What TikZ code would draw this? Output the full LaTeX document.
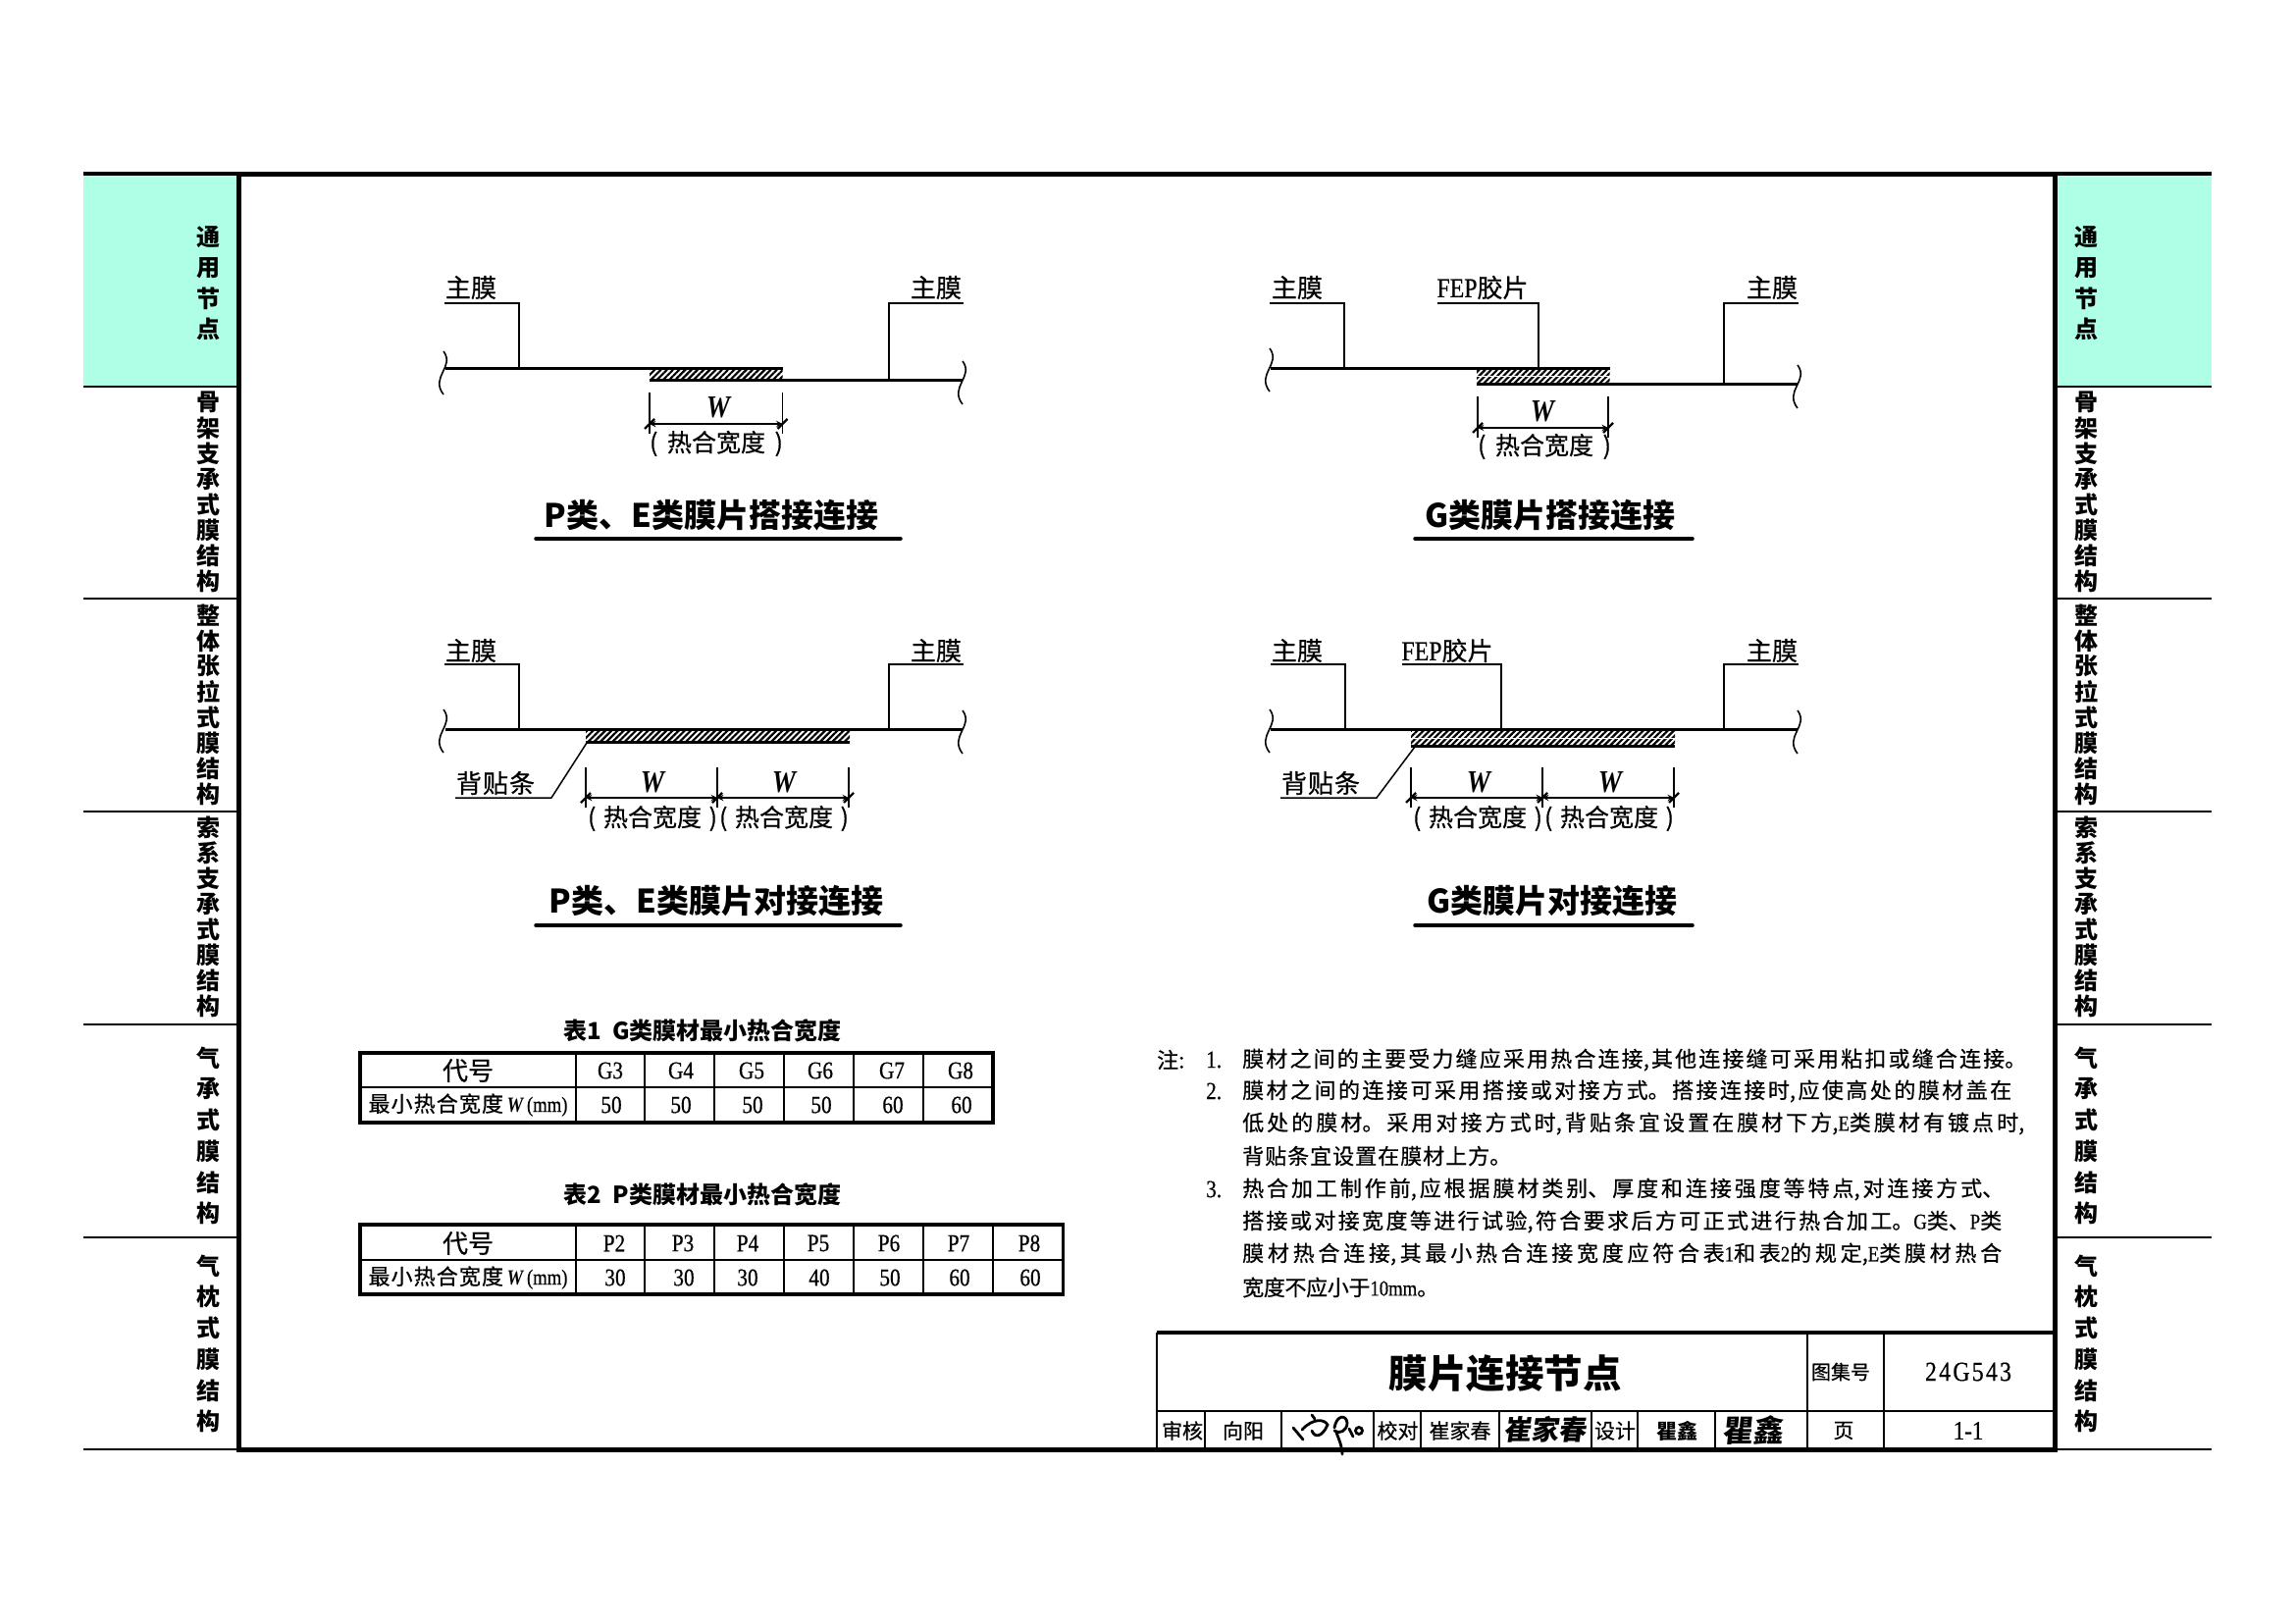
\documentclass[tikz,border=0pt]{standalone}
\usepackage{fontspec}
\setmainfont{Noto Sans CJK SC}[UprightFeatures={FakeBold=0.5}]
\newfontfamily\latn[FakeStretch=0.85, UprightFeatures={FakeBold=0.5}]{Liberation Serif}
\usetikzlibrary{patterns.meta}
\definecolor{tabgreen}{HTML}{AEFFE6}
\XeTeXlinebreaklocale "zh"
\XeTeXlinebreakskip=0pt plus 8pt minus 1pt
\newcommand{\fs}[1]{\fontsize{#1}{#1}\selectfont}
\newcommand{\spread}[2]{\vbox{\hsize=#1pt \parindent=0pt \parfillskip=0pt \tolerance=10000 \leavevmode #2\par}}
\newcommand{\wid}{{\latn\bfseries\itshape W}}
\newcommand{\heat}[1]{\spread{#1}{(\hfil 热合宽度\hfil)}}

\tikzset{
  every node/.style={inner sep=0pt},
  memtxt/.style={font=\fs{26}},
  memtitle/.style={font=\fs{33}\bfseries},
  tabtitle/.style={font=\fs{24}\bfseries},
  celltxt/.style={font=\fs{25}\latn},
  heattxt/.style={font=\fs{25}},
  widtxt/.style={font=\fs{32}},
  notetxt/.style={font=\fs{22}, anchor=west},
  sidetxt/.style={font=\fs{24}\bfseries},
  signtxt/.style={font=\fs{21}},
  thickline/.style={line width=3pt},
  leader/.style={line width=1.5pt},
  extline/.style={line width=1.3pt},
  dimline/.style={line width=1.8pt, <->},
  headline/.style={line width=3.5pt, line cap=round},
  inner/.style={line width=2pt},
  outer/.style={line width=3.5pt},
  hatch/.style={pattern={Lines[angle=45, distance=4.4pt, line width=2.2pt]}},
  signline/.style={line width=2.8pt, line cap=round},
  brk/.pic={\draw[line width=1.6pt] (0,-22) .. controls (12,-6) and (-14,4) .. (0,22);},
  dimtick/.pic={\draw[line width=2.4pt] (-5,5) -- (5,-5);}
}

\begin{document}
\begin{tikzpicture}[x=1pt, y=-1pt, >=stealth]
\fill[white] (0,0) rectangle (2339,1654);
\useasboundingbox (0,0) rectangle (2339,1654);

% side tabs
\fill[fill=tabgreen] (85,177) rectangle (243,394);
\fill[fill=tabgreen] (2094,177) rectangle (2254,394);
\foreach \y in {394,610,827,1044,1261,1477}
  \draw[line width=2.6pt] (85,\y) -- (243,\y) (2094,\y) -- (2254,\y);
\draw[outer] (85,177) -- (243,177) (2094,177) -- (2254,177);

\foreach \x in {212,2126}
  \foreach \y/\p/\s [count=\k] in {242/31/{通,用,节,点},
      410/26/{骨,架,支,承,式,膜,结,构},
      627/26/{整,体,张,拉,式,膜,结,构},
      843/26/{索,系,支,承,式,膜,结,构},
      1078/31.7/{气,承,式,膜,结,构},
      1290/31.7/{气,枕,式,膜,结,构}}
    \foreach \c [count=\i from 0] in \s
      \node[sidetxt] (tab-\x-\k-\i) at (\x,\y+\i*\p) {\c};

\draw[line width=5pt] (243,177) rectangle (2094,1477);

% P, E lap
\path[hatch] (662,375) rectangle (797.5,387);
\draw[thickline] (454,375) -- (797.5,375) (662,387) -- (981,387);
\draw[leader] (453,309) -- (529,309) -- (529,375);
\draw[leader] (982,309) -- (906,309) -- (906,387);
\node[memtxt] (lap-pe-l) at (480,293) {主膜};
\node[memtxt] (lap-pe-r) at (954,293) {主膜};
\pic at (452,380) {brk};
\pic at (981,390) {brk};
\foreach \x in {662,797.5} {
  \draw[extline] (\x,400) -- (\x,442);
  \pic at (\x,432) {dimtick};
}
\draw[dimline] (662,432) -- (797.5,432);
\node[widtxt] (lap-pe-w) at (732,415) {\wid};
\node[heattxt] (lap-pe-h) at (730,452) {\heat{136}};
\node[memtitle] (lap-pe-t) at (725,525) {P类、E类膜片搭接连接};
\draw[headline] (546,549) -- (918,549);

% G lap
\path[hatch] (1505,376) rectangle (1640.5,382.5);
\path[hatch] (1505,384) rectangle (1640.5,390);
\draw[thickline] (1295,375) -- (1640.5,375) (1505,391) -- (1832,391);
\draw[leader] (1294,309) -- (1370,309) -- (1370,375);
\draw[leader] (1465,309) -- (1568,309) -- (1568,375);
\draw[leader] (1833,309) -- (1757,309) -- (1757,391);
\node[memtxt] (lap-g-l) at (1322,293) {主膜};
\node[memtxt] (lap-g-f) at (1511,293) {{\latn\fs{28}FEP}胶片};
\node[memtxt] (lap-g-r) at (1806,293) {主膜};
\pic at (1294,377) {brk};
\pic at (1832,394) {brk};
\foreach \x in {1506,1639} {
  \draw[extline] (\x,404) -- (\x,446);
  \pic at (\x,436) {dimtick};
}
\draw[dimline] (1506,436) -- (1639,436);
\node[widtxt] (lap-g-w) at (1572,419) {\wid};
\node[heattxt] (lap-g-h) at (1574,455) {\heat{136}};
\node[memtitle] (lap-g-t) at (1580,525) {G类膜片搭接连接};
\draw[headline] (1442,549) -- (1725,549);

% P, E butt
\path[hatch] (597,744) rectangle (866,756);
\draw[thickline] (454,743) -- (981,743) (597,756) -- (866,756);
\draw[leader] (453,677) -- (529,677) -- (529,743);
\draw[leader] (982,677) -- (906,677) -- (906,743);
\draw[leader] (464,813) -- (562,813) -- (598,757);
\node[memtxt] (butt-pe-l) at (480,663) {主膜};
\node[memtxt] (butt-pe-r) at (954,663) {主膜};
\node[memtxt] (butt-pe-s) at (505,798) {\spread{80}{背贴条}};
\pic at (452,745) {brk};
\pic at (981,746) {brk};
\foreach \x in {597,731,865} {
  \draw[extline] (\x,782) -- (\x,823);
  \pic at (\x,813) {dimtick};
}
\draw[dimline] (597,813) -- (731,813);
\draw[dimline] (731,813) -- (865,813);
\foreach \x [count=\i] in {665,799}
  \node[widtxt] (butt-pe-w\i) at (\x,797) {\wid};
\foreach \x [count=\i] in {665,799}
  \node[heattxt] (butt-pe-h\i) at (\x,834) {\heat{132}};
\node[memtitle] (butt-pe-t) at (730,918) {P类、E类膜片对接连接};
\draw[headline] (546,943) -- (918,943);

% G butt
\path[hatch] (1438,745) rectangle (1707,751);
\path[hatch] (1438,753) rectangle (1707,759);
\draw[thickline] (1295,743) -- (1832,743) (1438,760) -- (1707,760);
\draw[leader] (1295,677) -- (1371,677) -- (1371,743);
\draw[leader] (1429,677) -- (1530,677) -- (1530,743);
\draw[leader] (1833,677) -- (1757,677) -- (1757,743);
\draw[leader] (1305,813) -- (1403,813) -- (1442,761);
\node[memtxt] (butt-g-l) at (1322,663) {主膜};
\node[memtxt] (butt-g-f) at (1475,663) {{\latn\fs{28}FEP}胶片};
\node[memtxt] (butt-g-r) at (1806,663) {主膜};
\node[memtxt] (butt-g-s) at (1346,798) {\spread{80}{背贴条}};
\pic at (1294,745) {brk};
\pic at (1832,746) {brk};
\foreach \x in {1438,1572,1706} {
  \draw[extline] (\x,782) -- (\x,823);
  \pic at (\x,813) {dimtick};
}
\draw[dimline] (1438,813) -- (1572,813);
\draw[dimline] (1572,813) -- (1706,813);
\foreach \x [count=\i] in {1507,1641}
  \node[widtxt] (butt-g-w\i) at (\x,797) {\wid};
\foreach \x [count=\i] in {1506,1640}
  \node[heattxt] (butt-g-h\i) at (\x,834) {\heat{132}};
\node[memtitle] (butt-g-t) at (1582,918) {G类膜片对接连接};
\draw[headline] (1442,943) -- (1725,943);

% table 1
\node[tabtitle] (tab1-t) at (716,1050) {表1\ \ G类膜材最小热合宽度};
\foreach \x in {587,657,728,799,870,941}
  \draw[inner] (\x,1073) -- (\x,1144);
\draw[inner] (367,1108) -- (1012,1108);
\draw[outer] (367,1073) rectangle (1012,1144);
\node[memtxt] (tab1-c) at (477,1091) {代号};
\node[memtxt, font=\fs{22}] (tab1-m) at (477,1126) {\spread{203}{最小热合宽度\,\wid\,{\latn(mm)}}};
\foreach \x/\l [count=\i] in {622/G3,694/G4,766/G5,836/G6,909/G7,979/G8}
  \node[celltxt] (tab1-h\i) at (\x,1091) {\l};
\foreach \x/\l [count=\i] in {623/50,694/50,767/50,837/50,910/60,980/60}
  \node[celltxt] (tab1-v\i) at (\x,1126) {\l};

% table 2
\node[tabtitle] (tab2-t) at (716,1217) {表2\ \ P类膜材最小热合宽度};
\foreach \x in {587,657,728,799,870,941,1012}
  \draw[inner] (\x,1248) -- (\x,1319);
\draw[inner] (367,1284) -- (1083.5,1284);
\draw[outer] (367,1248) rectangle (1083.5,1319);
\node[memtxt] (tab2-c) at (477,1267) {代号};
\node[memtxt, font=\fs{22}] (tab2-m) at (477,1302) {\spread{203}{最小热合宽度\,\wid\,{\latn(mm)}}};
\foreach \x/\l [count=\i] in {626/P2,696/P3,762/P4,834/P5,906/P6,977/P7,1049/P8}
  \node[celltxt] (tab2-h\i) at (\x,1267) {\l};
\foreach \x/\l [count=\i] in {627/30,697/30,762/30,835/40,907/50,978/60,1050/60}
  \node[celltxt] (tab2-v\i) at (\x,1302) {\l};

% notes
\node[notetxt] (note-head) at (1179,1080) {注:};
\foreach \y/\l [count=\i] in {1080/1.,1112/2.,1212/3.}
  \node[notetxt, font=\fs{25}\latn] (note-num\i) at (1229,\y) {\l};
\foreach \y/\w/\t [count=\i] in {1080/799/{膜材之间的主要受力缝应采用热合连接,其他连接缝可采用粘扣或缝合连接。},
    1112/784/{膜材之间的连接可采用搭接或对接方式。搭接连接时,应使高处的膜材盖在},
    1145/797/{低处的膜材。采用对接方式时,背贴条宜设置在膜材下方,{\latn E}类膜材有镀点时,},
    1178/274/{背贴条宜设置在膜材上方。},
    1212/776/{热合加工制作前,应根据膜材类别、厚度和连接强度等特点,对连接方式、},
    1245/774/{搭接或对接宽度等进行试验,符合要求后方可正式进行热合加工。{\latn G}类、{\latn P}类},
    1278/774/{膜材热合连接,其最小热合连接宽度应符合表{\latn 1}和表{\latn 2}的规定,{\latn E}类膜材热合},
    1312/200/{宽度不应小于{\latn 10mm}。}}
  \node[notetxt] (note-\i) at (1266,\y) {\spread{\w}{\t}};

% title block
\draw[outer] (1179,1358) -- (2094,1358);
\draw[inner] (1179,1358) -- (1179,1477);
\draw[inner] (1179,1438) -- (2094,1438);
\foreach \x in {1841.5,1920}
  \draw[inner] (\x,1358) -- (\x,1477);
\foreach \x in {1227.5,1306,1400,1448,1527.5,1621.5,1669,1747.5}
  \draw[inner] (\x,1438) -- (\x,1477);
\draw[line width=5pt] (1179,1477) -- (2094,1477);
\node[font=\fs{39.5}\bfseries] (block-title) at (1534,1400) {膜片连接节点};
\node[font=\fs{20}] (block-atlas) at (1876,1398) {图集号};
\node[font=\fs{28}\latn] (block-no) at (2006,1398) {\spread{88}{2\hfil4\hfil G\hfil5\hfil4\hfil3}};
\node[signtxt] (block-page) at (1879,1458) {页};
\node[font=\fs{27}\latn] (block-pno) at (2006,1458) {1-1};
\foreach \x/\t [count=\i] in {1205/审核,1267/向阳,1424.5/校对,1488/崔家春,1646/设计}
  \node[signtxt] (block-s\i) at (\x,1458) {\t};
\node[signtxt, font=\fs{21}\bfseries] (block-s6) at (1709.5,1458) {瞿鑫};
\node[font=\fs{28}\bfseries, xslant=0.15] (block-sign1) at (1576,1457) {崔家春};
\node[font=\fs{31}\bfseries, xslant=0.1] (block-sign2) at (1788,1457) {瞿鑫};

% first signature
\draw[signline] (1318,1455) -- (1328,1467);
\draw[signline] (1337,1442) -- (1340,1446);
\draw[signline] (1327,1457) .. controls (1338,1445) and (1350,1446) .. (1353,1452)
  .. controls (1348,1464) and (1340,1466) .. (1337,1458);
\draw[signline] (1360,1455) .. controls (1362,1442) and (1372,1441) .. (1373,1450)
  .. controls (1373,1458) and (1365,1462) .. (1360,1458);
\draw[signline] (1362,1460) .. controls (1366,1470) and (1368,1476) .. (1368,1482);
\draw[signline] (1375,1456) -- (1379,1464);
\draw[signline] (1385,1458) circle (3.5);
\end{tikzpicture}
\end{document}
